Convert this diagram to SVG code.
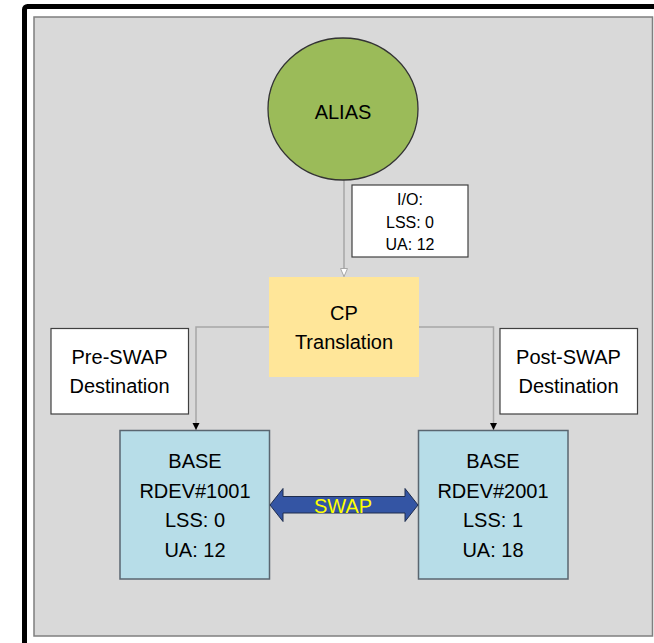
<svg xmlns="http://www.w3.org/2000/svg" width="654" height="643" viewBox="0 0 654 643">
<defs>
<style>
text{font-family:"Liberation Sans",Arial,sans-serif;fill:#000;text-anchor:middle}
.t20{font-size:20px}
.t16{font-size:16px}
.conn{fill:none;stroke:#a6a6a6;stroke-width:1.5}
.box{fill:#fff;stroke:#404040;stroke-width:1.2}
.base{fill:#b7dde8;stroke:#5a6670;stroke-width:1.5}
</style>
<marker id="openTri" viewBox="0 0 8 9" refX="4" refY="8.5" markerWidth="8" markerHeight="9" markerUnits="userSpaceOnUse">
<path d="M0.5,0.5 L7.5,0.5 L4,8.5 Z" fill="#fff" stroke="#a6a6a6" stroke-width="1"/>
</marker>
<marker id="blkTri" viewBox="0 0 8 7" refX="4" refY="7" markerWidth="8" markerHeight="7" markerUnits="userSpaceOnUse">
<path d="M0.5,0 L7.5,0 L4,7 Z" fill="#000"/>
</marker>
</defs>
<rect x="0" y="0" width="654" height="643" fill="#fff"/>
<rect id="frame" x="24.5" y="6.5" width="700" height="700" rx="3" fill="#fff" stroke="#000" stroke-width="5"/>
<rect id="panel" x="34" y="17" width="618.5" height="619" fill="#d9d9d9" stroke="#7f7f7f" stroke-width="1.5"/>

<g id="connectors">
<path class="conn" d="M344,180 V276.5" marker-end="url(#openTri)"/>
<path class="conn" d="M269,327 H196 V430" marker-end="url(#blkTri)"/>
<path class="conn" d="M419,327 H493.5 V430" marker-end="url(#blkTri)"/>
</g>

<g id="alias">
<ellipse cx="343" cy="109" rx="75" ry="71" fill="#9bbb59" stroke="#333" stroke-width="1.3"/>
<text class="t20" x="343" y="119">ALIAS</text>
</g>

<g id="io-label">
<rect class="box" x="352" y="185" width="116" height="72"/>
<text class="t16" x="410" y="205">I/O:</text>
<text class="t16" x="410" y="228">LSS: 0</text>
<text class="t16" x="410" y="250">UA: 12</text>
</g>

<g id="cp">
<rect x="269" y="277" width="150" height="100" fill="#ffe699"/>
<text class="t20" x="344" y="320">CP</text>
<text class="t20" x="344" y="349">Translation</text>
</g>

<g id="pre-swap">
<rect class="box" x="51" y="328.5" width="137.5" height="85.5"/>
<text class="t20" x="119.5" y="364">Pre-SWAP</text>
<text class="t20" x="119.5" y="393">Destination</text>
</g>

<g id="post-swap">
<rect class="box" x="500" y="328.5" width="137.5" height="85.5"/>
<text class="t20" x="568.5" y="364">Post-SWAP</text>
<text class="t20" x="568.5" y="393">Destination</text>
</g>

<g id="base1">
<rect class="base" x="120" y="430.5" width="149.5" height="148.5"/>
<text class="t20" x="195" y="468">BASE</text>
<text class="t20" x="195" y="498">RDEV#1001</text>
<text class="t20" x="195" y="527">LSS: 0</text>
<text class="t20" x="195" y="557">UA: 12</text>
</g>

<g id="base2">
<rect class="base" x="418.5" y="430.5" width="149.5" height="148.5"/>
<text class="t20" x="493" y="468">BASE</text>
<text class="t20" x="493" y="498">RDEV#2001</text>
<text class="t20" x="493" y="527">LSS: 1</text>
<text class="t20" x="493" y="557">UA: 18</text>
</g>

<g id="swap">
<polygon points="270,505 283,488.5 283,496.5 405,496.5 405,488.5 418,505 405,521.5 405,513 283,513 283,521.5" fill="#3455a4" stroke="#1f2d4d" stroke-width="1"/>
<text class="t20" x="343" y="513" style="fill:#ffff00">SWAP</text>
</g>
</svg>
